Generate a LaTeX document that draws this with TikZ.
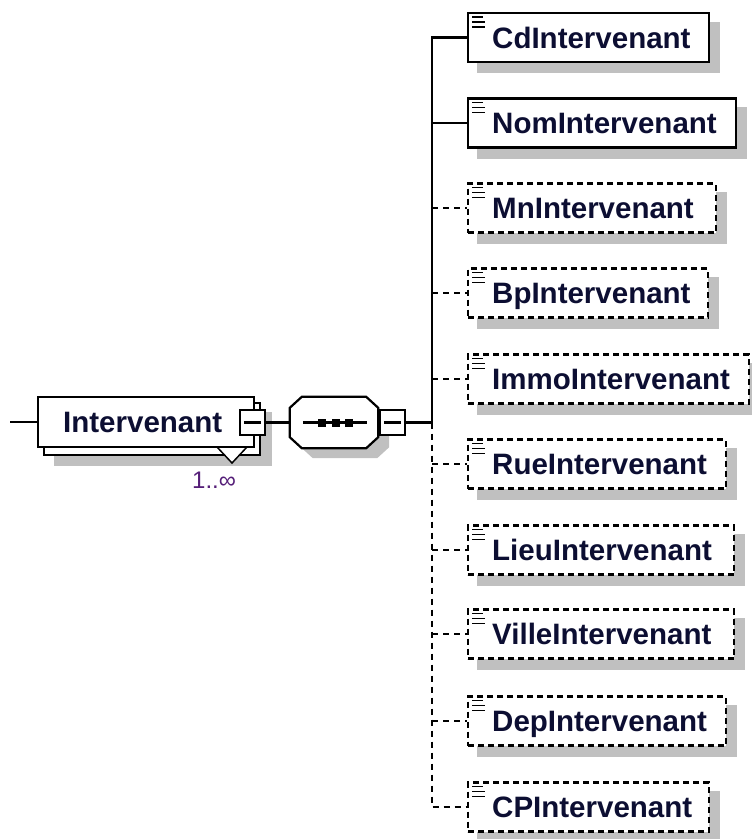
\documentclass[tikz,border=0pt]{standalone}
\usepackage{fontspec}
\setmainfont{Liberation Sans}
\usetikzlibrary{calc}
\pgfdeclarelayer{bg}
\pgfsetlayers{bg,main}
\definecolor{shadowc}{RGB}{192,192,192}
\definecolor{txtc}{RGB}{12,14,50}
\definecolor{occc}{RGB}{85,30,120}
\tikzset{
  elbox/.style={draw=black, line width=2.2pt, fill=white, minimum height=49pt, inner sep=0pt, anchor=west},
  optbox/.style={elbox, dash pattern=on 6pt off 4pt},
  eltext/.style={font=\bfseries\fontsize{29.5}{29.5}\selectfont, text=txtc, anchor=base west, inner sep=0pt},
  occtext/.style={font=\fontsize{24}{24}\selectfont, text=occc, anchor=base west, inner sep=0pt},
  conn/.style={line width=2.2pt},
  optconn/.style={line width=2.2pt, dash pattern=on 6pt off 5pt},
  minusbox/.style={draw=black, line width=2.2pt, fill=white, minimum width=25pt, minimum height=25pt, inner sep=0pt},
  iconl/.style={line width=1.7pt},
  shade/.style={fill=shadowc},
}
\newcommand{\xelt}[5]{%
  \node[#5, minimum width=#3pt] (#1) at (467,#2) {};
  \node[eltext] (#1-t) at ($(#1.west)+(25,10.5)$) {#4};
  \draw[iconl] ($(#1.north west)+(5,5)$) -- ++(11,0);
  \draw[iconl] ($(#1.north west)+(5,10)$) -- ++(13,0);
  \draw[iconl] ($(#1.north west)+(5,15)$) -- ++(13,0);
  \begin{pgfonlayer}{bg}
    \fill[shade] ($(#1.north west)+(10,10)$) rectangle ($(#1.south east)+(10,10)$);
  \end{pgfonlayer}
}
\begin{document}
\begin{tikzpicture}[x=1pt,y=-1pt]
\useasboundingbox (0,0) rectangle (752,839);

% ---- root element (repeated) ----
\coordinate (start) at (10,422);
\node[elbox, minimum width=216pt, minimum height=52pt] (intb) at (43,429) {};
\begin{pgfonlayer}{bg}
  \fill[shade] ($(intb.north west)+(11,10)$) rectangle ($(intb.south east)+(11,10)$);
\end{pgfonlayer}
\draw[line width=1.5pt, fill=white] (217,447) -- (247,447) -- (232,463) -- cycle;
\node[elbox, minimum width=216pt, minimum height=50pt] (intf) at (37,422) {};
\node[eltext] (int-t) at ($(intf.west)+(26,10.5)$) {Intervenant};
\node[minusbox] (intm) at (252.5,422.5) {};
\draw[conn] ($(intm.west)+(5,0)$) -- ($(intm.east)+(-5,0)$);
\node[occtext] (occ) at (192,488) {1..∞};
\draw[conn] (start) -- (intf.west);

% ---- sequence compositor ----
\node[minimum width=88pt, minimum height=51pt, inner sep=0pt] (seq) at (334,422.5) {};
\begin{pgfonlayer}{bg}
  \fill[shade] ($(seq.north west)+(11+12,10)$) -- ($(seq.north east)+(11-12,10)$) -- ($(seq.north east)+(11,10+11)$)
    -- ($(seq.south east)+(11,10-11)$) -- ($(seq.south east)+(11-12,10)$) -- ($(seq.south west)+(11+12,10)$)
    -- ($(seq.south west)+(11,10-11)$) -- ($(seq.north west)+(11,10+11)$) -- cycle;
\end{pgfonlayer}
\draw[conn, fill=white] ($(seq.north west)+(12,0)$) -- ($(seq.north east)+(-12,0)$) -- ($(seq.north east)+(0,11)$)
    -- ($(seq.south east)+(0,-11)$) -- ($(seq.south east)+(-12,0)$) -- ($(seq.south west)+(12,0)$)
    -- ($(seq.south west)+(0,-11)$) -- ($(seq.north west)+(0,11)$) -- cycle;
\draw[conn] ($(seq.west)+(13,0)$) -- ($(seq.east)+(-11,0)$);
\foreach \dx in {-12,2,15} {
  \fill ($(seq.center)+(\dx-4,-4)$) rectangle ++(8,8);
}
\node[minusbox] (seqm) at (392.5,422.5) {};
\draw[conn] ($(seqm.west)+(5,0)$) -- ($(seqm.east)+(-5,0)$);
\draw[conn] (intm.east) -- (seq.west);

% ---- children ----
\xelt{cd}{37.5}{241}{CdIntervenant}{elbox}
\xelt{nom}{123}{268}{NomIntervenant}{elbox}
\xelt{mn}{208}{248}{MnIntervenant}{optbox}
\xelt{bp}{293}{240}{BpIntervenant}{optbox}
\xelt{immo}{379}{281}{ImmoIntervenant}{optbox}
\xelt{rue}{464}{258}{RueIntervenant}{optbox}
\xelt{lieu}{550}{266}{LieuIntervenant}{optbox}
\xelt{ville}{634}{266}{VilleIntervenant}{optbox}
\xelt{dep}{721}{258}{DepIntervenant}{optbox}
\xelt{cp}{807}{241}{CPIntervenant}{optbox}

% ---- connectors ----
\coordinate (br) at (432,422.5);
\draw[conn] (seqm.east) -- (br);
\draw[conn] (br) |- (cd.west);
\draw[conn] (nom.west -| br) -- (nom.west);
\foreach \n in {mn,bp,immo} {
  \draw[optconn] (\n.west -| br) -- (\n.west);
}
\draw[optconn] (br) |- (cp.west);
\foreach \n in {rue,lieu,ville,dep} {
  \draw[optconn] (\n.west -| br) -- (\n.west);
}
\end{tikzpicture}
\end{document}
